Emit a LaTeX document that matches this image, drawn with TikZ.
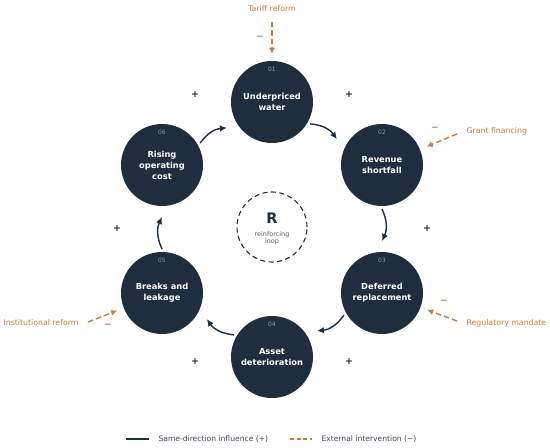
\documentclass[tikz,border=0pt]{standalone}
\usepackage{fontspec}
\setmainfont{DejaVu Sans}
\usetikzlibrary{arrows.meta,calc}

\definecolor{navy}{HTML}{1F2E3E}
\definecolor{rust}{HTML}{D4772C}
\definecolor{numgray}{HTML}{8A99A8}
\definecolor{legtext}{HTML}{3B4754}
\definecolor{capgray}{HTML}{55606B}

\tikzset{
  stage/.style={circle, fill=navy, minimum size=82pt, inner sep=0pt, text=white,
    align=center, font=\fontsize{8.3}{11}\selectfont\bfseries},
  stagenum/.style={text=numgray, font=\fontsize{6}{7}\selectfont},
  flow/.style={navy, line width=1.4pt, -{Latex[length=7pt,width=6.5pt]}},
  intv/.style={rust, line width=1.4pt, dash pattern=on 5.5pt off 3pt,
    -{Latex[length=6pt,width=6pt]}, shorten >=7pt},
  intvlabel/.style={text=rust, font=\fontsize{7.8}{9}\selectfont},
  minus/.style={text=rust, font=\fontsize{9}{10}\selectfont\bfseries},
  plus/.style={text=navy, font=\fontsize{9.5}{10}\selectfont\bfseries},
  legend/.style={text=legtext, font=\fontsize{7.6}{9}\selectfont, anchor=west}
}

\begin{document}
\begin{tikzpicture}[x=1pt,y=1pt]

\fill[white] (0,0) rectangle (550,448);
\useasboundingbox (0,0) rectangle (550,448);

% Central loop marker
\node[circle, draw=navy, line width=1.1pt, dash pattern=on 5pt off 3.5pt,
  minimum size=70pt] (rloop) at (272,221) {};
\node[text=navy, font=\fontsize{14.5}{16}\selectfont\bfseries] (rletter) at (272,230) {R};
\node[text=capgray, align=center, font=\fontsize{6.5}{7.5}\selectfont] (rcaption) at (272,210) {reinforcing\\loop};

% Stages of the loop
\node[stage] (n1) at (272,346) {Underpriced\\water};
\node[stage] (n2) at (382,283) {Revenue\\shortfall};
\node[stage] (n3) at (382,155) {Deferred\\replacement};
\node[stage] (n4) at (272,91) {Asset\\deterioration};
\node[stage] (n5) at (162,155) {Breaks and\\leakage};
\node[stage] (n6) at (162,283) {Rising\\operating\\cost};

% Stage numbers
\node[stagenum] (n1num) at (272,379) {01};
\node[stagenum] (n2num) at (382,316) {02};
\node[stagenum] (n3num) at (382,188) {03};
\node[stagenum] (n4num) at (272,124) {04};
\node[stagenum] (n5num) at (162,188) {05};
\node[stagenum] (n6num) at (162,316) {06};

% Loop arrows
\draw[flow] ($(n1)!44pt!(n2)$) to[bend left=25] ($(n2)!52pt!(n1)$);
\draw[flow] ($(n2)!44pt!(n3)$) to[bend left=25] ($(n3)!52pt!(n2)$);
\draw[flow] ($(n3)!44pt!(n4)$) to[bend left=25] ($(n4)!52pt!(n3)$);
\draw[flow] ($(n4)!44pt!(n5)$) to[bend left=25] ($(n5)!52pt!(n4)$);
\draw[flow] ($(n5)!44pt!(n6)$) to[bend left=25] ($(n6)!52pt!(n5)$);
\draw[flow] ($(n6)!44pt!(n1)$) to[bend left=25] ($(n1)!52pt!(n6)$);

% Polarity signs
\node[plus] (p12) at (349,353) {+};
\node[plus] (p23) at (427,219) {+};
\node[plus] (p34) at (349,86) {+};
\node[plus] (p45) at (195,86) {+};
\node[plus] (p56) at (117,219) {+};
\node[plus] (p61) at (195,353) {+};

% External interventions
\node[intvlabel] (tariff) at (272,439) {Tariff reform};
\node[intvlabel, anchor=west] (grant) at (463,317) {Grant financing};
\node[intvlabel, anchor=west] (regulatory) at (463,125) {Regulatory mandate};
\node[intvlabel, anchor=east] (institutional) at (82,125) {Institutional reform};

\coordinate (tariffsrc) at (272,426);
\coordinate (grantsrc) at (457,314);
\coordinate (regsrc) at (457,127);
\coordinate (instsrc) at (88,126);

\draw[intv] (tariffsrc) -- (n1);
\draw[intv] (grantsrc) -- (n2);
\draw[intv] (regsrc) -- (n3);
\draw[intv] (instsrc) -- (n5);

\node[minus] (m1) at (260,410) {−};
\node[minus] (m2) at (435,319) {−};
\node[minus] (m3) at (444,146) {−};
\node[minus] (m5) at (108,122) {−};

% Legend
\coordinate (lega) at (126,9);
\coordinate (legb) at (149,9);
\coordinate (legc) at (290,9);
\coordinate (legd) at (312,9);
\draw[navy, line width=1.4pt] (lega) -- (legb);
\node[legend] (legflow) at (155,9) {Same-direction influence (+)};
\draw[rust, line width=1.4pt, dash pattern=on 4pt off 2.5pt] (legc) -- (legd);
\node[legend] (legintv) at (318,9) {External intervention (−)};

\end{tikzpicture}
\end{document}
